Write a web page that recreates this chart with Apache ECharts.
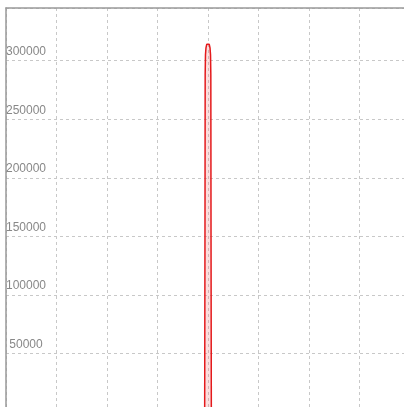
<!DOCTYPE html>
<html>
<head>
<meta charset="utf-8">
<script src="https://cdn.jsdelivr.net/npm/echarts@6/dist/echarts.min.js"></script>
<style>html,body{margin:0;padding:0;background:#fff;}#c{width:404px;height:407px;}</style>
</head>
<body>
<div id="c"></div>
<script>
var xValues = [-4, -0.066, -0.06, -0.056, -0.05, -0.04, -0.025, 0, 0.025, 0.04, 0.05, 0.056, 0.06, 0.066, 4];
var yValues = [0, 0, 150000, 288000, 305000, 311000, 314000, 315000, 314000, 311000, 305000, 288000, 150000, 0, 0];
var yTicks = [50000, 100000, 150000, 200000, 250000, 300000];

var data = xValues.map(function (x, i) { return [x, yValues[i]]; });
var chart = echarts.init(document.getElementById('c'), null, {renderer: 'canvas'});
chart.setOption({
  animation: false,
  grid: {left: 6, top: 8, right: -6, bottom: -5, containLabel: false, outerBoundsMode: 'none'},
  xAxis: {
    type: 'value', min: -4, max: 4, interval: 1, position: 'top',
    axisLine: {show: true, onZero: false, lineStyle: {color: '#999', width: 1.5}},
    axisTick: {show: false},
    axisLabel: {show: false},
    splitLine: {show: true, lineStyle: {color: '#c8c8c8', type: [3, 3], width: 1}}
  },
  yAxis: {
    type: 'value', min: 0, max: 345000, interval: 50000,
    axisLine: {show: true, onZero: false, lineStyle: {color: '#999', width: 1.5}},
    axisTick: {show: false},
    axisLabel: {
      inside: true, margin: 20, align: 'center', verticalAlign: 'bottom',
      padding: [0, 0, 3, 0],
      color: '#888', fontSize: 12, fontFamily: 'Liberation Sans, Arial, sans-serif',
      formatter: function (v) { return yTicks.indexOf(v) >= 0 ? String(v) : ''; }
    },
    splitLine: {show: true, lineStyle: {color: '#c8c8c8', type: [3, 3], width: 1}}
  },
  series: [{
    type: 'line', data: data, showSymbol: false, smooth: false,
    lineStyle: {color: '#e41a1c', width: 1.5},
    areaStyle: {color: 'rgba(240,120,120,0.35)'},
    z: 1
  }]
});
</script>
</body>
</html>
